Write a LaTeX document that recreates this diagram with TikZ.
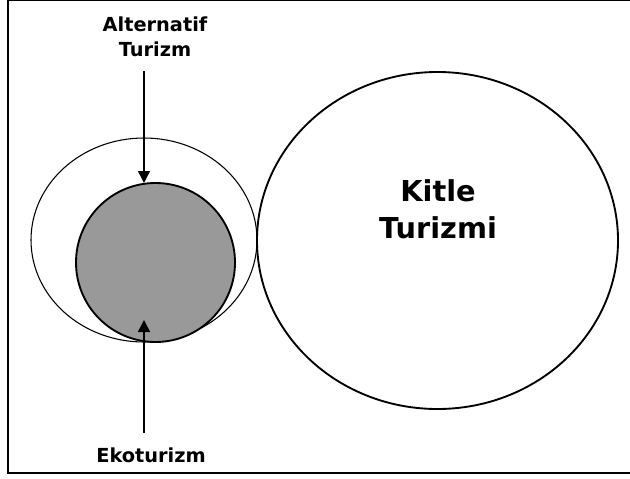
\documentclass[tikz,border=0pt]{standalone}
\usepackage{fontspec}
\setmainfont{DejaVu Sans}
\usetikzlibrary{arrows.meta, shapes.geometric}
\newcommand\smalllabelfont{\bfseries\fontsize{14.5}{18.75}\selectfont}
\newcommand\biglabelfont{\bfseries\fontsize{21.6}{27.75}\selectfont}

\begin{document}
\begin{tikzpicture}[x=0.75pt, y=-0.75pt]
		\tikzstyle{Outer} = [ellipse, minimum width=169.5pt, minimum height=153pt, inner sep=0pt, draw=black, line width=0.8pt]
		\tikzstyle{Eco} = [circle, minimum size=119.25pt, inner sep=0pt, draw=black, fill=black!40, line width=1.4pt]
		\tikzstyle{Mass} = [ellipse, minimum width=270.75pt, minimum height=252.75pt, inner sep=0pt, draw=black, line width=1.4pt]
		\tikzstyle{Label} = [font=\smalllabelfont, align=center, inner sep=0pt]
		\tikzstyle{arrow} = [line width=1.1pt, -{Triangle[length=9pt, width=9pt]}]
		
		\useasboundingbox (0,0) rectangle (630,478);
		\draw [line width=1.5pt] (630,0.5) -- (8,0.5) -- (8,473) -- (630,473);
		
		\node (alt) [Outer] at (144,240) {};
		\node (eko) [Eco] at (155.5,262.5) {};
		\node (kitle) [Mass] at (437.5,240.5) {};
		\node (kitleText) [Label, font=\biglabelfont] at (438,209) {Kitle\\Turizmi};
		
		\node (altText) [Label] at (155,37) {Alternatif\\Turizm};
		\node (ekoText) [Label, anchor=base] at (151,462) {Ekoturizm};
		
		\coordinate (altFrom) at (144,71);
		\coordinate (altTo) at (144,183);
		\coordinate (ekoFrom) at (144,433);
		\coordinate (ekoTo) at (144,320);
		\draw[arrow] (altFrom) -- (altTo);
		\draw[arrow] (ekoFrom) -- (ekoTo);
\end{tikzpicture}
\end{document}
